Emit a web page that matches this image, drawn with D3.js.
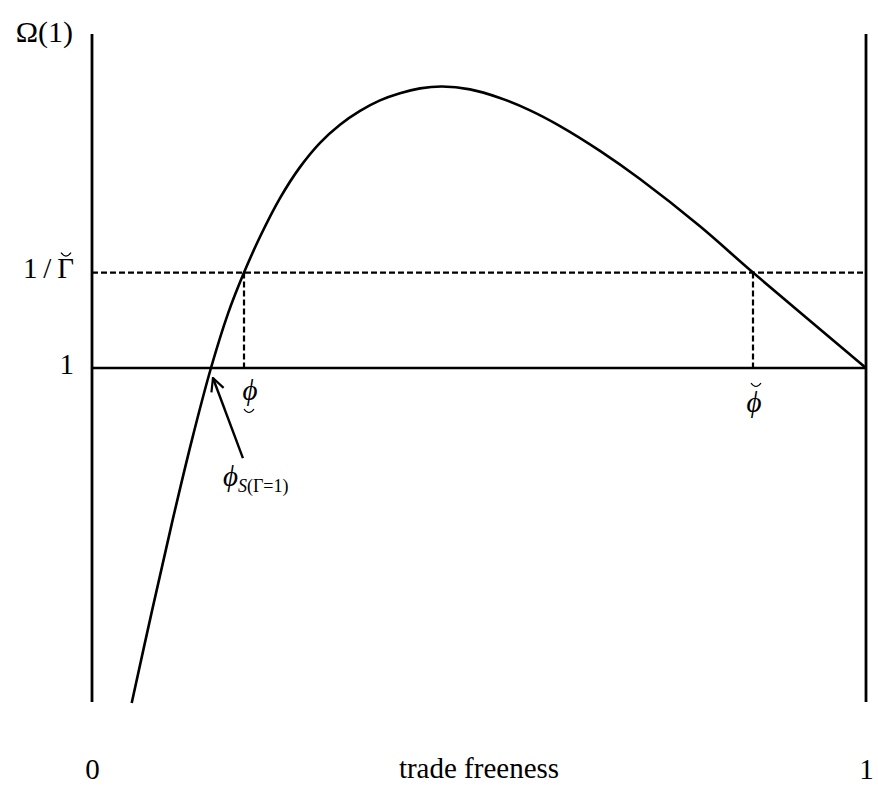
<!DOCTYPE html>
<html>
<head>
<meta charset="utf-8">
<script src="https://cdn.jsdelivr.net/npm/d3@7"></script>
<style>
  body { margin: 0; background: #fff; }
  svg { display: block; }
  text { font-family: "Liberation Serif", "Times New Roman", serif; fill: #000; }
</style>
</head>
<body>
<svg id="chart"></svg>
<script>
// curve Omega(1) against trade freeness
const freeness = [0.0513, 0.0775, 0.1034, 0.1292, 0.1537, 0.1757, 0.1964, 0.2171, 0.2429, 0.2687,
                  0.2946, 0.3204, 0.3463, 0.3721, 0.3979, 0.4238, 0.4522, 0.4884, 0.5271, 0.5659,
                  0.6047, 0.6563, 0.7080, 0.7855, 0.8540, 1.0];
const omega    = [0.298, 0.491, 0.676, 0.850, 1.0, 1.114, 1.2, 1.275, 1.356, 1.421,
                  1.472, 1.510, 1.539, 1.561, 1.576, 1.586, 1.590, 1.584, 1.566, 1.540,
                  1.507, 1.455, 1.396, 1.297, 1.2, 1.0];

const xTicks = [0, 1];
const xTickLabels = ["0", "1"];
const yTicks = [1, 1.2];
const yTickLabels = ["1", "1\u2009/\u2009\u0393"];

const gammaInv = 1.2;     // 1/Γ̆ level
const phiLow = 0.1964;    // φ with breve below
const phiHigh = 0.854;    // φ with breve above
const phiS = 0.1537;      // φ_S(Γ=1), where the curve crosses 1

const W = 878, H = 790;
const margin = { top: 34, right: 12, bottom: 88, left: 92 };

const svg = d3.select("#chart").attr("width", W).attr("height", H);

const x = d3.scaleLinear().domain([0, 1]).range([margin.left, W - margin.right]);
const y = d3.scaleLinear().domain([0.3, 1.7]).range([H - margin.bottom, margin.top]);

const fs = 29;

// frame: the two vertical axes and the level 1
svg.append("g").selectAll("line").data(xTicks)
  .join("line")
    .attr("x1", d => x(d)).attr("x2", d => x(d))
    .attr("y1", y(0.3)).attr("y2", y(1.7))
    .attr("stroke", "#000").attr("stroke-width", 2.8);

svg.append("line")
  .attr("x1", x(0)).attr("x2", x(1))
  .attr("y1", y(1)).attr("y2", y(1))
  .attr("stroke", "#000").attr("stroke-width", 2.4);

// dashed guides
svg.append("line")
  .attr("x1", x(0)).attr("x2", x(1))
  .attr("y1", y(gammaInv)).attr("y2", y(gammaInv))
  .attr("stroke", "#000").attr("stroke-width", 2.2)
  .attr("stroke-dasharray", "6,3");

svg.append("g").selectAll("line").data([phiLow, phiHigh])
  .join("line")
    .attr("x1", d => x(d)).attr("x2", d => x(d))
    .attr("y1", y(gammaInv)).attr("y2", y(1))
    .attr("stroke", "#000").attr("stroke-width", 2.2)
    .attr("stroke-dasharray", "6,3");

// the curve
const line = d3.line()
  .x((d, i) => x(freeness[i]))
  .y(d => y(d))
  .curve(d3.curveCatmullRom.alpha(0.5));

svg.append("path")
  .attr("d", line(omega))
  .attr("fill", "none")
  .attr("stroke", "#000")
  .attr("stroke-width", 2.6);

// axes (labels only)
const xAxis = d3.axisBottom(x)
  .tickValues(xTicks)
  .tickFormat((d, i) => xTickLabels[i])
  .tickSize(0).tickPadding(56);

const xAxisG = svg.append("g")
  .attr("transform", `translate(0,${y(0.3)})`)
  .call(xAxis);

const yAxis = d3.axisLeft(y)
  .tickValues(yTicks)
  .tickFormat((d, i) => yTickLabels[i])
  .tickSize(0).tickPadding(18);

const yAxisG = svg.append("g")
  .attr("transform", `translate(${x(0)},0)`)
  .call(yAxis);

[xAxisG, yAxisG].forEach(g => {
  g.select(".domain").remove();
  g.selectAll("text")
    .attr("font-family", "Liberation Serif, serif")
    .attr("font-size", fs)
    .attr("fill", "#000");
});
yAxisG.selectAll("text").attr("dy", "0.18em");

// small breve marks (drawn, so they can sit over or under a letter)
function breve(cx, cy) {
  svg.append("path")
    .attr("d", `M${cx - 5},${cy}Q${cx},${cy + 7} ${cx + 5},${cy}`)
    .attr("fill", "none")
    .attr("stroke", "#000")
    .attr("stroke-width", 1.2);
}
breve(x(0) - 26, y(gammaInv) - 20);

// axis titles
svg.append("text")
  .attr("x", x(0.5)).attr("y", y(0.3) + 76)
  .attr("text-anchor", "middle")
  .attr("font-size", fs)
  .text("trade freeness");

svg.append("text")
  .attr("x", x(0) - 19).attr("y", y(1.7) + 8)
  .attr("text-anchor", "end")
  .attr("font-size", 30)
  .text("\u03A9(1)");

// phi labels
svg.append("text")
  .attr("x", x(phiLow) + 6).attr("y", y(1) + 32)
  .attr("text-anchor", "middle")
  .attr("font-size", fs)
  .attr("font-style", "italic")
  .text("\u03D5");
breve(x(phiLow) + 5, y(1) + 41);

svg.append("text")
  .attr("x", x(phiHigh) + 1).attr("y", y(1) + 44)
  .attr("text-anchor", "middle")
  .attr("font-size", fs)
  .attr("font-style", "italic")
  .text("\u03D5");
breve(x(phiHigh) + 3, y(1) + 15);

const sLabel = svg.append("text")
  .attr("x", x(phiS) + 12).attr("y", y(1) + 118)
  .attr("font-size", fs)
  .attr("font-style", "italic");
sLabel.append("tspan").text("\u03D5");
sLabel.append("tspan").attr("font-size", 18).attr("dy", 6).text("S");
sLabel.append("tspan").attr("font-size", 18).attr("font-style", "normal").text("(\u0393=1)");

// arrow pointing at phi_S
svg.append("defs").append("marker")
  .attr("id", "head")
  .attr("viewBox", "0 -8 15 16")
  .attr("refX", 14).attr("refY", 0)
  .attr("markerWidth", 15).attr("markerHeight", 16)
  .attr("markerUnits", "userSpaceOnUse")
  .attr("orient", "auto")
  .append("path")
    .attr("d", "M1,-6.5L14,0L1,6.5")
    .attr("fill", "none")
    .attr("stroke", "#000")
    .attr("stroke-width", 2.2);

svg.append("line")
  .attr("x1", x(0.195)).attr("y1", y(0.811))
  .attr("x2", x(phiS) + 2).attr("y2", y(0.979))
  .attr("stroke", "#000").attr("stroke-width", 2.4)
  .attr("marker-end", "url(#head)");
</script>
</body>
</html>
